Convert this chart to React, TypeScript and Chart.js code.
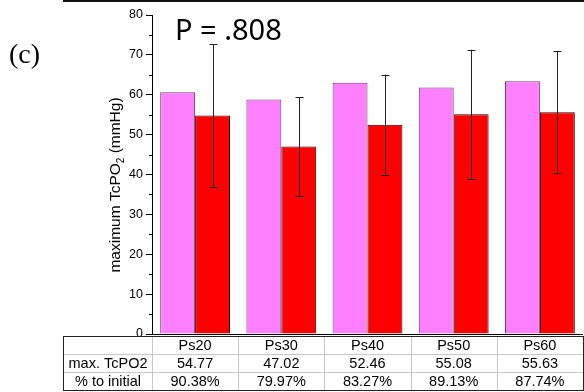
import React, { useEffect, useRef } from "react";
import { Chart, registerables } from "chart.js";

Chart.register(...registerables);

const categories = ["Ps20", "Ps30", "Ps40", "Ps50", "Ps60"];
const initialValues = [60.6, 58.8, 63.0, 61.8, 63.4];
const maxValues = [54.77, 47.02, 52.46, 55.08, 55.63];
const maxErrors = [17.9, 12.4, 12.6, 16.2, 15.3];
const rowMaxLabels = ["54.77", "47.02", "52.46", "55.08", "55.63"];
const rowPctLabels = ["90.38%", "79.97%", "83.27%", "89.13%", "87.74%"];
const rowHeaders = ["", "max. TcPO2", "% to initial"];
const yTicks = [0, 10, 20, 30, 40, 50, 60, 70, 80];
const pValueText = "P = .808";
const panelLabel = "(c)";

const SANS = "'Liberation Sans', Arial, sans-serif";

const overlay = {
  id: "overlay",
  afterDraw(chart: any) {
    const ctx = chart.ctx as CanvasRenderingContext2D;
    const area = chart.chartArea;
    const xs = chart.scales.x;
    const ys = chart.scales.y;
    ctx.save();

    // minor ticks
    ctx.strokeStyle = "#000";
    ctx.lineWidth = 1;
    for (let v = 5; v < 80; v += 10) {
      const y = Math.round(ys.getPixelForValue(v)) + 0.5;
      ctx.beginPath();
      ctx.moveTo(area.left - 3, y);
      ctx.lineTo(area.left, y);
      ctx.stroke();
    }
    // bottom axis line
    const by = Math.round(ys.getPixelForValue(0)) + 0.5;
    ctx.beginPath();
    ctx.moveTo(area.left, by);
    ctx.lineTo(area.right, by);
    ctx.stroke();

    // error bars
    const meta = chart.getDatasetMeta(1);
    ctx.strokeStyle = "#222";
    meta.data.forEach((bar: any, i: number) => {
      const x = Math.round(bar.x) + 0.5;
      const top = ys.getPixelForValue(maxValues[i] + maxErrors[i]);
      const bot = ys.getPixelForValue(maxValues[i] - maxErrors[i]);
      ctx.beginPath();
      ctx.moveTo(x, top);
      ctx.lineTo(x, bot);
      ctx.moveTo(x - 4, Math.round(top) + 0.5);
      ctx.lineTo(x + 4, Math.round(top) + 0.5);
      ctx.moveTo(x - 4, Math.round(bot) + 0.5);
      ctx.lineTo(x + 4, Math.round(bot) + 0.5);
      ctx.stroke();
    });

    // table
    const tLeft = 63.5;
    const tRight = area.right + 0.5;
    const rows = [336.5, 354.5, 372.5, 390.5];
    const colW = (area.right - area.left) / categories.length;
    const bounds: number[] = [tLeft];
    for (let k = 0; k < categories.length; k++) bounds.push(Math.round(area.left + k * colW) + 0.5);
    bounds.push(tRight);
    ctx.strokeStyle = "#c8c8c8";
    ctx.beginPath();
    for (let k = 1; k < bounds.length - 1; k++) {
      ctx.moveTo(bounds[k], rows[0]);
      ctx.lineTo(bounds[k], rows[3]);
    }
    ctx.moveTo(tLeft, rows[1]);
    ctx.lineTo(tRight, rows[1]);
    ctx.moveTo(tLeft, rows[2]);
    ctx.lineTo(tRight, rows[2]);
    ctx.stroke();
    ctx.strokeStyle = "#222";
    ctx.strokeRect(tLeft, rows[0], tRight - tLeft, rows[3] - rows[0]);

    ctx.fillStyle = "#000";
    ctx.font = `14.5px ${SANS}`;
    ctx.textAlign = "center";
    ctx.textBaseline = "middle";
    const rowMid = [345.5, 363.5, 381.5];
    const firstMid = (bounds[0] + bounds[1]) / 2;
    rowHeaders.forEach((h, r) => {
      if (h) ctx.fillText(h, firstMid, rowMid[r]);
    });
    categories.forEach((c, i) => {
      const cx = xs.getPixelForValue(i);
      ctx.fillText(c, cx, rowMid[0]);
      ctx.fillText(rowMaxLabels[i], cx, rowMid[1]);
      ctx.fillText(rowPctLabels[i], cx, rowMid[2]);
    });

    // y title with subscript
    ctx.save();
    ctx.translate(120, 185);
    ctx.rotate(-Math.PI / 2);
    ctx.textAlign = "left";
    ctx.textBaseline = "alphabetic";
    const f1 = `15.5px ${SANS}`;
    const f2 = `10px ${SANS}`;
    const a = "maximum TcPO";
    const b = "2";
    const c = " (mmHg)";
    ctx.font = f1;
    const wa = ctx.measureText(a).width;
    const wc = ctx.measureText(c).width;
    ctx.font = f2;
    const wb = ctx.measureText(b).width;
    let x0 = -(wa + wb + wc) / 2;
    ctx.font = f1;
    ctx.fillText(a, x0, 0);
    ctx.font = f2;
    ctx.fillText(b, x0 + wa, 4);
    ctx.font = f1;
    ctx.fillText(c, x0 + wa + wb, 0);
    ctx.restore();

    // P value
    ctx.textAlign = "left";
    ctx.textBaseline = "alphabetic";
    ctx.font = `29px 'Noto Sans', sans-serif`;
    ctx.fillText(pValueText, 175, 40);

    // panel label
    ctx.font = `28px 'Liberation Serif', 'Times New Roman', serif`;
    ctx.fillText(panelLabel, 9, 63);

    // top line (previous panel border)
    ctx.fillStyle = "#111";
    ctx.fillRect(63, 0, 521, 2);

    ctx.restore();
  },
};

export default function App() {
  const ref = useRef<HTMLCanvasElement | null>(null);
  useEffect(() => {
    if (!ref.current) return;
    const chart = new Chart(ref.current, {
      type: "bar",
      data: {
        labels: categories,
        datasets: [
          {
            label: "initial",
            data: initialValues,
            backgroundColor: "#ff80ff",
            borderColor: "#6e3c6e",
            borderWidth: 1,
            barPercentage: 1,
            categoryPercentage: 0.81,
          },
          {
            label: "max. TcPO2",
            data: maxValues,
            backgroundColor: "#ff0000",
            borderColor: "#2a0000",
            borderWidth: 1,
            barPercentage: 1,
            categoryPercentage: 0.81,
          },
        ],
      },
      options: {
        animation: false,
        responsive: false,
        maintainAspectRatio: false,
        layout: { padding: { top: 15, bottom: 58, right: 1, left: 0 } },
        plugins: { legend: { display: false }, tooltip: { enabled: false } },
        scales: {
          x: { display: false },
          y: {
            min: 0,
            max: 80,
            afterBuildTicks: (s: any) => {
              s.ticks = yTicks.map((v) => ({ value: v }));
            },
            afterFit: (s: any) => {
              s.width = 152;
            },
            ticks: {
              color: "#000",
              font: { family: SANS, size: 12.5 },
              padding: 3,
            },
            grid: {
              drawOnChartArea: false,
              drawTicks: true,
              tickLength: 6,
              tickColor: "#000",
            },
            border: { color: "#000", width: 1 },
          },
        },
      },
      plugins: [overlay],
    });
    return () => chart.destroy();
  }, []);
  return (
    <div style={{ position: "absolute", left: 0, top: 0, width: 584, height: 392 }}>
      <canvas ref={ref} width={584} height={392} />
    </div>
  );
}
